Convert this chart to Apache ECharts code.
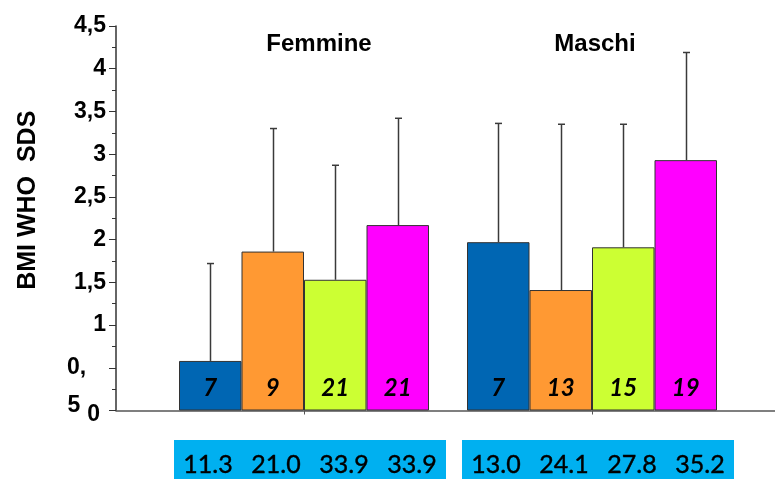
<!DOCTYPE html>
<html>
<head>
<meta charset="utf-8">
<script src="https://cdn.jsdelivr.net/npm/echarts@6/dist/echarts.min.js"></script>
<style>
  html, body { margin: 0; padding: 0; background: #fff; }
  #chart { width: 775px; height: 479px; }
</style>
</head>
<body>
<div id="chart"></div>
<script>
// ---- data ----
const categories = ['Femmine', 'Maschi'];
const seriesNames = ['Gruppo 1', 'Gruppo 2', 'Gruppo 3', 'Gruppo 4'];
const meanF = [0.58, 1.86, 1.53, 2.17];
const meanM = [1.97, 1.41, 1.91, 2.93];
const sdF = [1.14, 1.44, 1.34, 1.25];
const sdM = [1.39, 1.94, 1.44, 1.26];
const nF = [7, 9, 21, 21];
const nM = [7, 13, 15, 19];
const boxF = ['11.3', '21.0', '33.9', '33.9'];
const boxM = ['13.0', '24.1', '27.8', '35.2'];
const yTicks = [0, 0.5, 1, 1.5, 2, 2.5, 3, 3.5, 4, 4.5];

// ---- style ----
const colors = ['#0066B3', '#FF9933', '#CCFF33', '#FF00FF'];
const boxColor = '#00B0F0';
const barW = 62.5;
const boxW = 68;
const axisFont = 'Liberation Sans';

const chart = echarts.init(document.getElementById('chart'), null, { renderer: 'canvas' });

const series = [];
for (let i = 0; i < 4; i++) {
  series.push({
    name: seriesNames[i],
    type: 'bar',
    xAxisIndex: 1, yAxisIndex: 1,
    barWidth: barW,
    barGap: '0%',
    data: [meanF[i], meanM[i]],
    itemStyle: { color: colors[i], borderColor: '#333', borderWidth: 1 },
    label: {
      show: true,
      position: 'insideBottom',
      distance: 10,
      formatter: p => String((p.dataIndex === 0 ? nF : nM)[i]),
      fontFamily: 'Lato', fontStyle: 'italic', fontWeight: 'bold', fontSize: 24, color: '#000'
    },
    z: 2
  });
}
for (let i = 0; i < 4; i++) {
  series.push({
    name: seriesNames[i] + ' SD',
    type: 'custom',
    xAxisIndex: 1, yAxisIndex: 1,
    data: [[0, meanF[i], meanF[i] + sdF[i]], [1, meanM[i], meanM[i] + sdM[i]]],
    renderItem: (params, api) => {
      const c = api.value(0);
      const p0 = api.coord([c, api.value(1)]);
      const p1 = api.coord([c, api.value(2)]);
      const x = Math.round(p0[0] + (i - 1.5) * barW) + 0.5;
      return {
        type: 'group',
        children: [
          { type: 'line', shape: { x1: x, y1: p0[1], x2: x, y2: p1[1] }, style: { stroke: '#3a3a3a', lineWidth: 1.5 } },
          { type: 'line', shape: { x1: x - 3.5, y1: p1[1], x2: x + 3.5, y2: p1[1] }, style: { stroke: '#3a3a3a', lineWidth: 1.5 } }
        ]
      };
    },
    z: 5
  });
}
for (let i = 0; i < 4; i++) {
  series.push({
    name: seriesNames[i] + ' box',
    type: 'bar',
    xAxisIndex: 2, yAxisIndex: 2,
    barWidth: boxW,
    barGap: '0%',
    silent: true,
    data: [1, 1],
    itemStyle: { color: boxColor },
    label: {
      show: true,
      position: 'inside',
      formatter: p => (p.dataIndex === 0 ? boxF : boxM)[i],
      fontFamily: 'Lato', fontSize: 25, color: '#000',
      textBorderColor: '#000', textBorderWidth: 0.4
    }
  });
}

const option = {
  backgroundColor: '#fff',
  animation: false,
  title: [
    { text: 'Femmine', left: 319, top: 32, textAlign: 'center', padding: 0,
      textStyle: { fontFamily: 'Liberation Sans', fontWeight: 'bold', fontSize: 24, color: '#000' } },
    { text: 'Maschi', left: 595, top: 32, textAlign: 'center', padding: 0,
      textStyle: { fontFamily: 'Liberation Sans', fontWeight: 'bold', fontSize: 24, color: '#000' } }
  ],
  grid: [
    { left: 116, right: 0, top: 26, bottom: 68.5, outerBoundsMode: 'none' },
    { left: 160, right: 39, top: 26, bottom: 68.5, outerBoundsMode: 'none' },
    { left: 166, right: 33, top: 440, height: 50, outerBoundsMode: 'none' }
  ],
  xAxis: [
    { gridIndex: 0, type: 'value', min: 0, max: 1,
      axisLine: { show: true, lineStyle: { color: '#555', width: 1.5 } },
      axisTick: { show: false }, axisLabel: { show: false }, splitLine: { show: false } },
    { gridIndex: 1, type: 'category', data: categories,
      axisLine: { show: false },
      axisTick: { show: true, alignWithLabel: true, length: 4, lineStyle: { color: '#555', width: 1 } },
      axisLabel: { show: false }, splitLine: { show: false } },
    { gridIndex: 2, type: 'category', data: categories, show: false }
  ],
  yAxis: [
    { gridIndex: 0, type: 'value', min: 0, max: 4.5, interval: 0.5,
      name: 'BMI WHO  SDS', nameLocation: 'middle', nameRotate: 90, nameGap: 75,
      nameTextStyle: { fontFamily: 'Liberation Sans', fontWeight: 'bold', fontSize: 25, color: '#000', padding: [0, 0, 0, 36] },
      axisLine: { show: true, lineStyle: { color: '#333', width: 1.5 } },
      axisTick: { show: true, length: 7, lineStyle: { color: '#333', width: 1 } },
      minorTick: { show: true, splitNumber: 2, length: 4, lineStyle: { color: '#333', width: 1 } },
      splitLine: { show: false },
      axisLabel: {
        margin: 10,
        hideOverlap: false,
        formatter: v => {
          if (v === 0.5) return '{h|0,}';
          if (v === 0) return '{f|5}{z|0}';
          return '{n|' + String(v).replace('.', ',') + '}';
        },
        rich: {
          n: { fontFamily: axisFont, fontWeight: 'bold', fontSize: 23, color: '#000' },
          h: { fontFamily: axisFont, fontWeight: 'bold', fontSize: 23, color: '#000', width: 39, align: 'left' },
          f: { fontFamily: axisFont, fontWeight: 'bold', fontSize: 23, color: '#000', lineHeight: 23, verticalAlign: 'top', padding: [6, 7, 0, 0] },
          z: { fontFamily: axisFont, fontWeight: 'bold', fontSize: 23, color: '#000', lineHeight: 44, padding: [8, 6, 0, 0] }
        }
      }
    },
    { gridIndex: 1, type: 'value', min: 0, max: 4.5, show: false },
    { gridIndex: 2, type: 'value', min: 0, max: 1, show: false }
  ],
  series: series
};

chart.setOption(option);
</script>
</body>
</html>
